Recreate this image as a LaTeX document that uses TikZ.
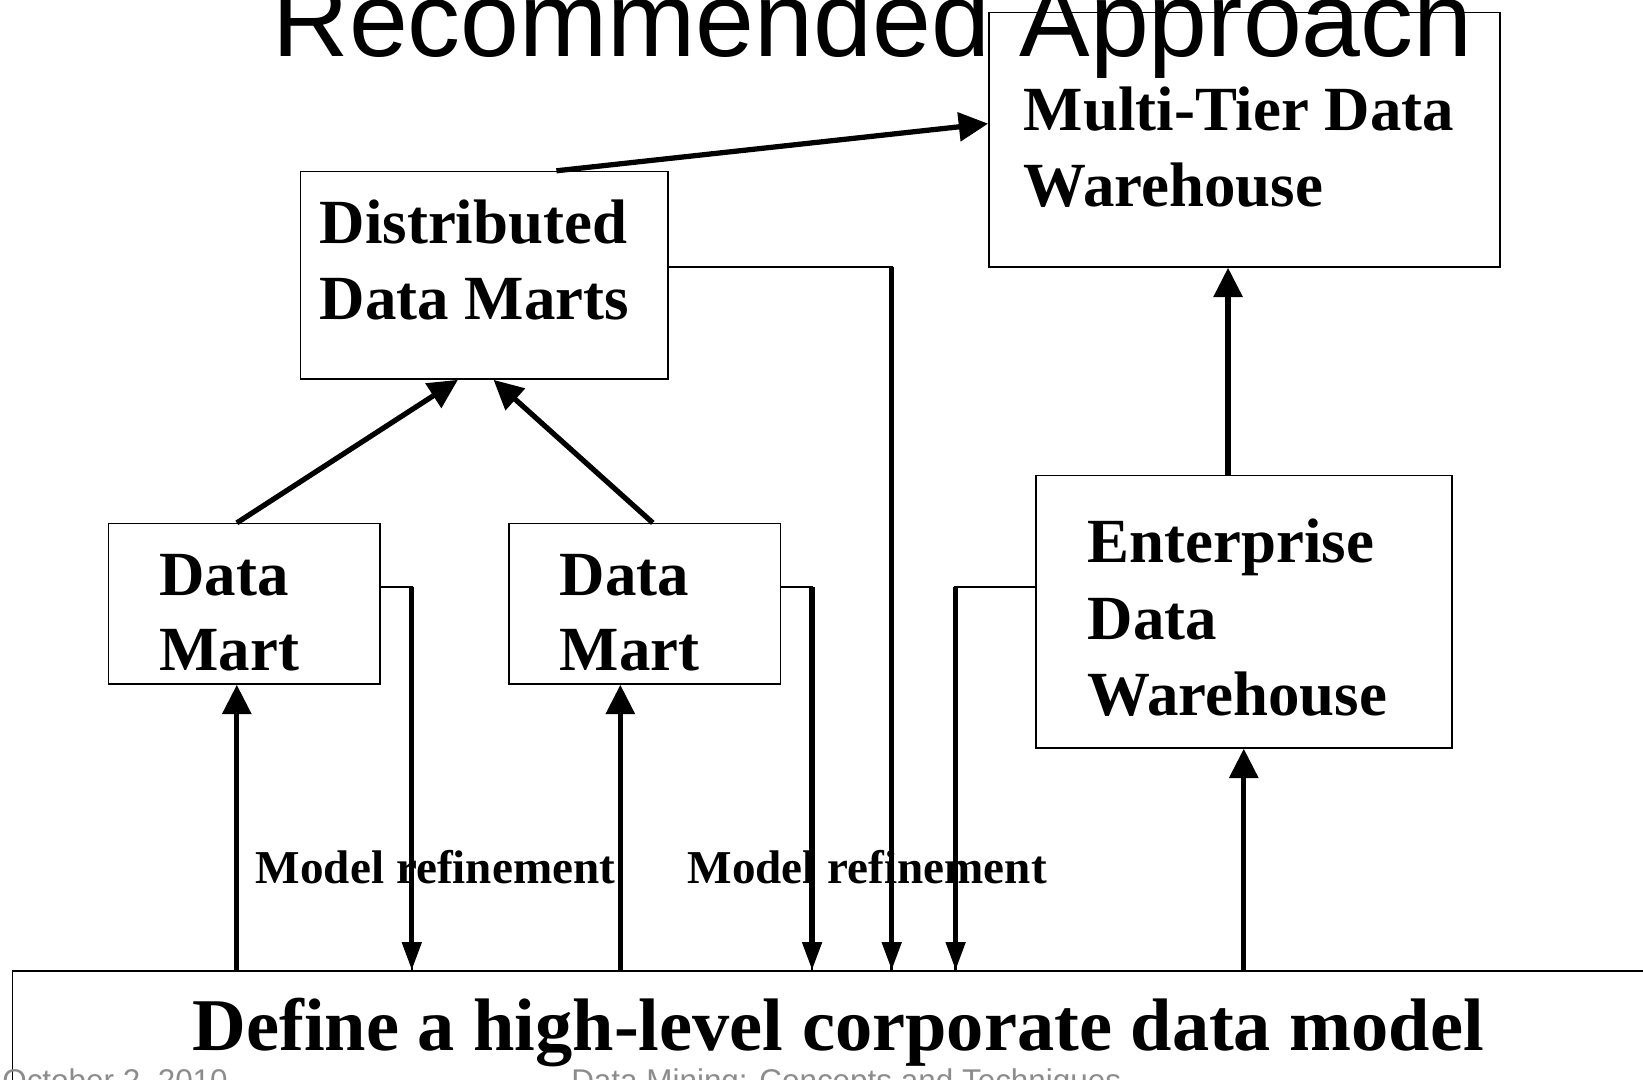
\documentclass[tikz,border=0pt]{standalone}
\usepackage{fontspec}
\setmainfont{Liberation Serif}
\newfontfamily\headfont{Liberation Sans}
\usetikzlibrary{arrows.meta}
\definecolor{footgray}{RGB}{140,140,140}

\begin{document}
\begin{tikzpicture}[x=1pt,y=-1pt,
  box/.style={draw, line width=1.5pt, inner sep=0pt, anchor=north west},
  lbl/.style={anchor=base west, inner sep=0pt, font=\fontsize{60}{72}\selectfont\bfseries},
  note/.style={anchor=base west, inner sep=0pt, font=\fontsize{45}{54}\selectfont\bfseries},
  foot/.style={anchor=base west, inner sep=0pt, text=footgray, font=\headfont\fontsize{30}{36}\selectfont},
  conn/.style={line width=5pt},
  stub/.style={line width=2.4pt},
  uparrow/.style={conn, -{Triangle[length=28pt,width=27pt]}},
  dnarrow/.style={conn, -{Triangle[length=27pt,width=18pt]}},
]
\useasboundingbox (0,0) rectangle (1568,1030);
\clip (0,0) rectangle (1568,1030);

% heading
\node[anchor=base west, inner sep=0pt, font=\headfont\fontsize{101}{101}\selectfont] (title) at (260,54) {Recommended Approach};

% boxes
\node[box, minimum width=488pt, minimum height=243pt] (mt)  at (943,11)  {};
\node[box, minimum width=351pt, minimum height=198pt] (ddm) at (286,163) {};
\node[box, minimum width=259pt, minimum height=153pt] (dm1) at (103,499) {};
\node[box, minimum width=259pt, minimum height=153pt] (dm2) at (485,499) {};
\node[box, minimum width=397pt, minimum height=260pt] (edw) at (988,453) {};
\node[box, minimum width=1620pt, minimum height=200pt] (base) at (11,926) {};

% box texts
\node[lbl] (mt1) at (977,125) {Multi-Tier Data};
\node[lbl] (mt2) at (977,197) {Warehouse};
\node[lbl] (ddm1) at (305,232) {Distributed};
\node[lbl] (ddm2) at (305,305) {Data Marts};
\node[lbl] (dma1) at (152,568) {Data};
\node[lbl] (dma2) at (152,640) {Mart};
\node[lbl] (dmb1) at (534,568) {Data};
\node[lbl] (dmb2) at (534,640) {Mart};
\node[lbl] (edw1) at (1038,537) {Enterprise};
\node[lbl] (edw2) at (1038,610) {Data};
\node[lbl] (edw3) at (1038,683) {Warehouse};
\node[anchor=base, inner sep=0pt, font=\fontsize{71}{80}\selectfont\bfseries] (basetext) at (800,1003) {Define a high-level corporate data model};

% refinement labels
\node[note] (ref1) at (244,843) {Model refinement};
\node[note] (ref2) at (656,843) {Model refinement};

% upward links
\draw[uparrow] ([xshift=245pt]ddm.north west) -- ([yshift=-107pt]mt.north west);
\draw[uparrow] ([xshift=123pt]dm1.north west) -- ([xshift=151pt]ddm.south west);
\draw[uparrow] ([xshift=138pt]dm2.north west) -- ([xshift=185pt]ddm.south west);
\draw[uparrow] ([xshift=184pt]edw.north west) -- ([xshift=229pt]mt.south west);
\draw[uparrow] ([xshift=215pt]base.north west) -- ([xshift=123pt]dm1.south west);
\draw[uparrow] ([xshift=581pt]base.north west) -- ([xshift=107pt]dm2.south west);
\draw[uparrow] ([xshift=1176pt]base.north west) -- ([xshift=199pt]edw.south west);

% refinement feedback to the corporate model: thin side stub, thick drop
\coordinate (dm1out) at ([yshift=-61pt]dm1.north east);
\coordinate (dm2out) at ([yshift=-61pt]dm2.north east);
\coordinate (ddmout) at ([yshift=-92pt]ddm.north east);
\coordinate (edwout) at ([yshift=-107pt]edw.north west);
\coordinate (in1) at ([xshift=382pt]base.north west);
\coordinate (in2) at ([xshift=764pt]base.north west);
\coordinate (in3) at ([xshift=840pt]base.north west);
\coordinate (in4) at ([xshift=901pt]base.north west);

\draw[stub] (dm1out) -| (in1);
\draw[dnarrow] (dm1out -| in1) -- (in1);
\draw[stub] (dm2out) -| (in2);
\draw[dnarrow] (dm2out -| in2) -- (in2);
\draw[stub] (ddmout) -| (in3);
\draw[dnarrow] (ddmout -| in3) -- (in3);
\draw[stub] (edwout) -| (in4);
\draw[dnarrow] (edwout -| in4) -- (in4);

% footer
\node[foot] (date) at (2,1042) {October 2, 2010};
\node[foot] (book) at (545,1042) {Data Mining: Concepts and Techniques};
\end{tikzpicture}
\end{document}
